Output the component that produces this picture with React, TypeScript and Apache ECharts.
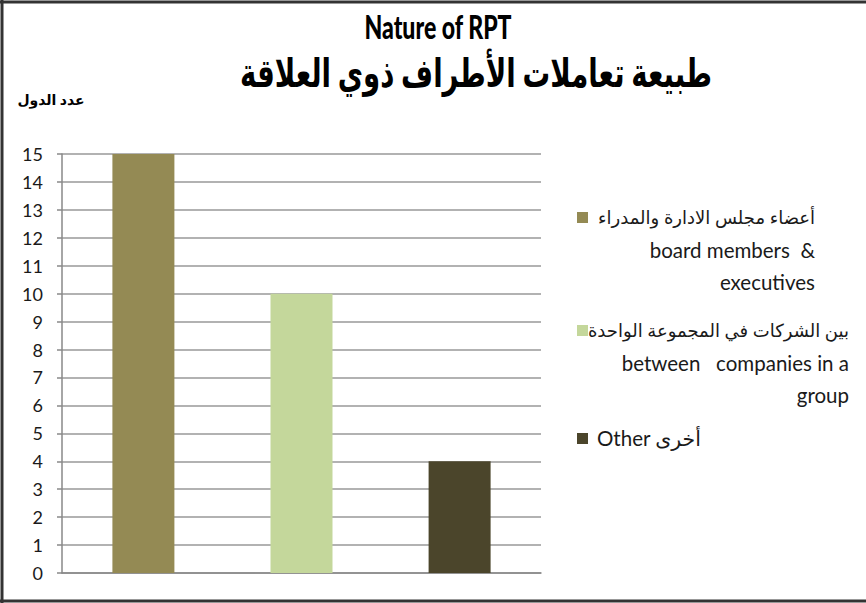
import React, { useEffect, useRef } from "react";
import * as echarts from "echarts";

const categories = [""];
const seriesNames = [
  "أعضاء مجلس الادارة والمدراء\nboard members \u00a0&\nexecutives",
  "بين الشركات في المجموعة الواحدة\nbetween \u00a0\u00a0companies in a\ngroup",
  "Other أخرى",
];
const seriesValues = [15, 10, 4];
const seriesColors = ["#948A54", "#C4D79B", "#4B452B"];
const yTicks = { min: 0, max: 15, interval: 1 };

export default function App() {
  const ref = useRef<HTMLDivElement>(null);
  useEffect(() => {
    const chart = echarts.init(ref.current!, null, { renderer: "svg" });
    const font = "Lato, 'DejaVu Sans', sans-serif";
    const legendItems = [
      { y: 217, right: 815, align: "right", lines: seriesNames[0].split("\n") },
      { y: 330, right: 849, align: "right", lines: seriesNames[1].split("\n") },
      { y: 438, right: 597, align: "left", lines: [seriesNames[2]] },
    ];
    const isArabic = (s: string) => /[\u0600-\u06FF]/.test(s) && !/[A-Za-z]/.test(s);
    const graphics: any[] = [
      { type: "line", shape: { x1: 2, y1: 0, x2: 2, y2: 603 }, style: { stroke: "#333", lineWidth: 3 } },
      { type: "line", shape: { x1: 0, y1: 2, x2: 866, y2: 2 }, style: { stroke: "#333", lineWidth: 3 } },
      { type: "line", shape: { x1: 0, y1: 601, x2: 866, y2: 601 }, style: { stroke: "#333", lineWidth: 3 } },
      {
        type: "text",
        x: 438,
        y: 26,
        scaleX: 0.7,
        style: { text: "Nature of RPT", font: `900 33px ${font}`, fill: "#000", textAlign: "center", textVerticalAlign: "middle" },
      },
      {
        type: "text",
        x: 476,
        y: 71,
        scaleX: 0.69,
        style: { text: "طبيعة تعاملات الأطراف ذوي العلاقة", font: `bold 40px ${font}`, fill: "#000", textAlign: "center", textVerticalAlign: "middle" },
      },
      {
        type: "text",
        x: 51,
        y: 99,
        style: { text: "عدد الدول", font: `bold 14px ${font}`, fill: "#000", textAlign: "center", textVerticalAlign: "middle" },
      },
    ];
    legendItems.forEach((it, i) => {
      graphics.push({
        type: "rect",
        shape: { x: 577, y: it.y - 5, width: 11, height: 11 },
        style: { fill: seriesColors[i] },
      });
      it.lines.forEach((ln, j) => {
        graphics.push({
          type: "text",
          x: it.right,
          y: it.y + j * 32.5,
          style: {
            text: ln,
            font: `${isArabic(ln) ? 18 : 20.5}px ${font}`,
            fill: "#1a1a1a",
            textAlign: it.align,
            textVerticalAlign: "middle",
          },
        });
      });
    });
    chart.setOption({
      animation: false,
      grid: { left: 62, right: 325, top: 154, bottom: 30, containLabel: false },
      xAxis: {
        type: "category",
        data: categories,
        axisLine: { show: true, lineStyle: { color: "#888", width: 1.5 } },
        axisTick: { show: false },
        axisLabel: { show: false },
      },
      yAxis: {
        type: "value",
        min: yTicks.min,
        max: yTicks.max,
        interval: yTicks.interval,
        axisLine: { show: true, lineStyle: { color: "#888", width: 1.5 } },
        axisTick: { show: true, length: 5, lineStyle: { color: "#888", width: 1.5 } },
        axisLabel: { color: "#1a1a1a", fontSize: 18, fontFamily: font, margin: 19 },
        splitLine: { show: true, lineStyle: { color: "#999", width: 1.5 } },
      },
      series: seriesNames.map((name, i) => ({
        type: "bar",
        name,
        data: [seriesValues[i]],
        barWidth: 62,
        barGap: "155%",
        itemStyle: { color: seriesColors[i] },
      })),
      graphic: graphics,
    });
    return () => chart.dispose();
  }, []);
  return <div ref={ref} style={{ position: "fixed", left: 0, top: 0, width: 866, height: 603, background: "#fff" }} />;
}
